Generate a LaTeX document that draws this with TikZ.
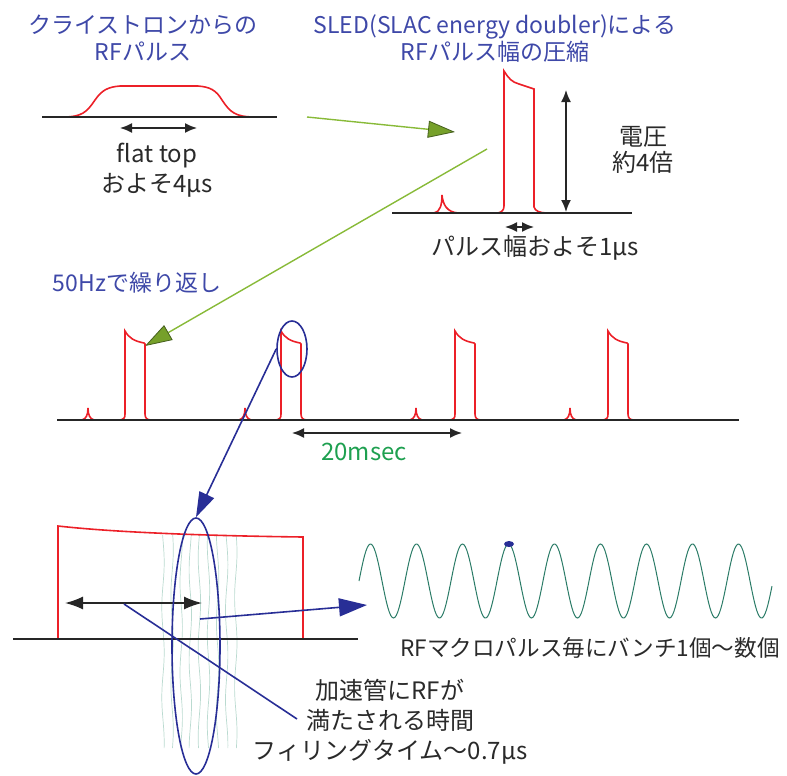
\documentclass[tikz,border=0pt]{standalone}
\usepackage{fontspec}
\setmainfont{Noto Sans CJK JP}
\usepackage{tikz}
\usetikzlibrary{positioning, arrows.meta, calc, shapes.geometric}
\definecolor{titleblue}{RGB}{62,72,168}
\definecolor{pulsered}{RGB}{236,32,40}
\definecolor{leafgreen}{RGB}{136,186,56}
\definecolor{olivehead}{RGB}{118,160,42}
\definecolor{headedge}{RGB}{70,96,30}
\definecolor{ringblue}{RGB}{40,46,150}
\definecolor{wavegreen}{RGB}{44,124,104}
\definecolor{fadegreen}{RGB}{186,218,208}
\definecolor{msgreen}{RGB}{30,160,80}
\definecolor{textgray}{RGB}{42,42,42}
\tikzset{
  titlelabel/.style={
    font=\fontsize{11.5}{13.5}\selectfont,
    text=titleblue,
    align=center,
    inner sep=0pt
  },
  notelabel/.style={
    font=\fontsize{12}{15}\selectfont,
    text=textgray,
    align=center,
    inner sep=0pt
  },
  axisline/.style={
    draw=black!85,
    line width=0.8pt
  },
  rfpulse/.style={
    draw=pulsered,
    line width=0.8pt
  },
  spanarrow/.style={
    {Latex[length=6pt,width=5pt]}-{Latex[length=6pt,width=5pt]},
    draw=black!85,
    line width=0.8pt
  },
  greenarrow/.style={
    -{Triangle[length=13.5pt,width=8.5pt,color=headedge,fill=olivehead,line width=0.4pt]},
    draw=leafgreen,
    line width=0.7pt
  },
  bluearrow/.style={
    -{Triangle[length=13pt,width=8pt]},
    draw=ringblue,
    line width=0.8pt
  },
  leaderline/.style={
    draw=ringblue,
    line width=0.8pt
  },
  ring/.style={
    ellipse,
    draw=ringblue,
    line width=0.8pt,
    inner sep=0pt
  }
}

\begin{document}
\begin{tikzpicture}[x=0.5pt, y=-0.5pt]
  \useasboundingbox (0,0) rectangle (787,776);

  % titles
  \node[titlelabel] (klytitle) at (143,38.5) {クライストロンからの\\RFパルス};
  \node[titlelabel] (sledtitle) at (495,38.5) {SLED(SLAC energy doubler)による\\RFパルス幅の圧縮};

  % klystron pulse
  \draw[rfpulse] (63,117) .. controls (82,117) and (87,112) .. (95,100)
    .. controls (102,90) and (108,87) .. (120,86) -- (198,86)
    .. controls (210,87) and (216,90) .. (222,100)
    .. controls (230,112) and (235,117) .. (255,117);
  \draw[axisline] (42,117) -- (277,117);
  \coordinate (flatL) at (120,128);
  \coordinate (flatR) at (197,128);
  \draw[spanarrow] (flatL) -- (flatR);
  \node[notelabel] (flattext) at (157,170) {flat top\\およそ4μs};

  % compressed pulse
  \draw[rfpulse] (434,213) .. controls (440,212) and (442,205) .. (442,195)
    .. controls (443,205) and (447,212) .. (458,213);
  \draw[rfpulse] (498,213) .. controls (502,212) and (504,210) .. (504,206) -- (504,71)
    .. controls (509,79) and (512,82) .. (519,84) -- (534,89) -- (534,207)
    .. controls (535,211) and (540,213) .. (547,213);
  \draw[axisline] (392,213) -- (632,213);
  \coordinate (voltTop) at (566,90);
  \coordinate (voltBot) at (566,212);
  \draw[spanarrow] (voltTop) -- (voltBot);
  \node[notelabel, font=\fontsize{12}{13}\selectfont] (volttext) at (643,150) {電圧\\約4倍};
  \coordinate (widthL) at (505,227);
  \coordinate (widthR) at (534,227);
  \draw[spanarrow] (widthL) -- (widthR);
  \node[notelabel] (widthtext) at (535,248) {パルス幅およそ1μs};

  % green arrows
  \coordinate (toSledStart) at (307,117);
  \coordinate (toSledTip) at (455,132);
  \draw[greenarrow] (toSledStart) -- (toSledTip);
  \coordinate (toTrainStart) at (487,149);
  \coordinate (toTrainTip) at (145,346);
  \draw[greenarrow] (toTrainStart) -- (toTrainTip);

  % pulse train
  \node[titlelabel] (repeattext) at (137,283) {50Hzで繰り返し};
  \foreach \sx/\px in {88/125, 245/281, 416/455, 570/608} {
    \draw[rfpulse] ({\sx-6},420) .. controls ({\sx-2},419) and (\sx,415) .. (\sx,408)
      .. controls (\sx,415) and ({\sx+2},419) .. ({\sx+6},420);
    \draw[rfpulse] ({\px-5},420) .. controls ({\px-1},419) and (\px,418) .. (\px,414) -- (\px,331)
      .. controls ({\px+4},338) and ({\px+9},341) .. ({\px+19},343) -- ({\px+20},344) -- ({\px+20},414)
      .. controls ({\px+20},418) and ({\px+22},420) .. ({\px+26},420);
  }
  \draw[axisline] (57,420) -- (739,420);
  \coordinate (periodL) at (292,433);
  \coordinate (periodR) at (462,433);
  \draw[spanarrow] (periodL) -- (periodR);
  \node[notelabel, text=msgreen] (periodtext) at (364,452) {20msec};

  % field inside the structure
  \foreach \i in {0,...,8} {
    \draw[fadegreen, line width=0.35pt, domain=535:748, samples=80, variable=\t]
      plot ({163+\i*9.1+1.2*sin(\t*4+\i*50)}, \t);
  }
  \draw[rfpulse] (58,639) -- (58,526) .. controls (120,533) and (220,536) .. (303,537) -- (303,639);
  \draw[axisline] (13,639) -- (358,639);
  \coordinate (fillL) at (65,603);
  \coordinate (fillR) at (202,603);
  \draw[spanarrow, {Latex[length=9pt,width=6.5pt]}-{Latex[length=9pt,width=6.5pt]}] (fillL) -- (fillR);

  % rings and blue arrows
  \node[ring, minimum width=15pt, minimum height=28pt] (zoomring) at (292,349) {};
  \node[ring, minimum width=24pt, minimum height=128pt] (fillring) at (196,646) {};
  \draw[bluearrow, -{Triangle[length=12.5pt,width=8pt]}] (zoomring.west) -- (fillring.north);
  \coordinate (bunchStart) at (200,619);
  \coordinate (bunchTip) at (367,605);
  \draw[bluearrow, -{Triangle[length=14pt,width=9pt]}] (bunchStart) -- (bunchTip);
  \coordinate (leadStart) at (124,604);
  \coordinate (leadEnd) at (297,719);
  \draw[leaderline] (leadStart) -- (leadEnd);

  % bunch wave
  \draw[wavegreen, line width=0.5pt, domain=359:772, samples=300]
    plot (\x, {581-37*sin((\x-359)*7.8261)});
  \node[ellipse, fill=ringblue, minimum width=5pt, minimum height=3pt, inner sep=0pt] (bunchdot) at (509,544) {};
  \node[notelabel, font=\fontsize{11.3}{14}\selectfont] (bunchtext) at (590,648) {RFマクロパルス毎にバンチ1個〜数個};
  \node[notelabel] (filltext) at (390,722) {加速管にRFが\\満たされる時間\\フィリングタイム〜0.7μs};
\end{tikzpicture}
\end{document}
